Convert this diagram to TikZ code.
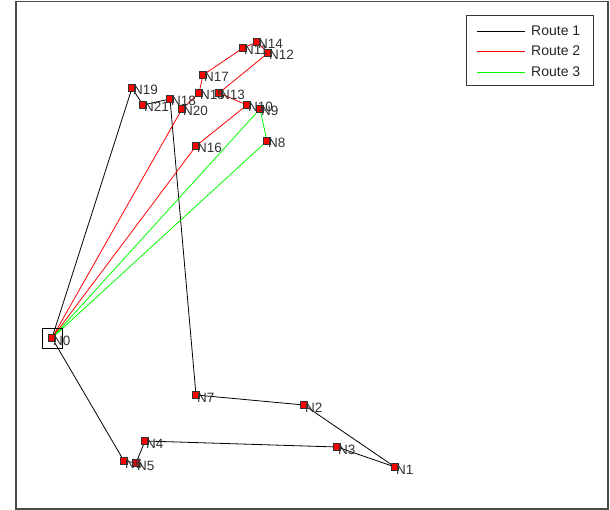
\documentclass[tikz,border=0pt]{standalone}
\usepackage{fontspec}
\setmainfont{Liberation Sans}
\usetikzlibrary{calc}
\begin{document}
\begin{tikzpicture}[x=1pt,y=-1pt,
  mk/.style={draw=black!80,fill=red,rectangle,minimum size=7.5pt,inner sep=0pt,line width=0.6pt},
  lbl/.style={anchor=base west,inner sep=0pt,font=\fontsize{13.5}{14}\selectfont,text=black!80},
  r1/.style={draw=black,line width=0.8pt},
  r2/.style={draw=red,line width=0.8pt},
  r3/.style={draw=green,line width=0.8pt},
  leg/.style={anchor=west,inner sep=0pt,font=\fontsize{14}{15}\selectfont,text=black!85}]
\useasboundingbox (0,0) rectangle (610,510);
\fill[white] (0,0) rectangle (610,510);
\draw[black!70,line width=1.2pt] (16,1.5) rectangle (608,509);
% coordinates
\coordinate (n0) at (52,338);
\coordinate (n1) at (395,467);
\coordinate (n2) at (304,405);
\coordinate (n3) at (337,447);
\coordinate (n4) at (145,441);
\coordinate (n5) at (136,463);
\coordinate (n6) at (124,461);
\coordinate (n7) at (196,395);
\coordinate (n8) at (267,141);
\coordinate (n9) at (260,109);
\coordinate (n10) at (247,105);
\coordinate (n11) at (243,48);
\coordinate (n12) at (268,53);
\coordinate (n13) at (219,93);
\coordinate (n14) at (257,42);
\coordinate (n15) at (199,93);
\coordinate (n16) at (196,146);
\coordinate (n17) at (203,75);
\coordinate (n18) at (170,99);
\coordinate (n19) at (132,88);
\coordinate (n20) at (182,109);
\coordinate (n21) at (143,105);
% routes
\draw[r1] (n0) -- (n19) -- (n21) -- (n18) -- (n7) -- (n2) -- (n1) -- (n3) -- (n4) -- (n5) -- (n6) -- (n0);
\draw[r2] (n0) -- (n20) -- (n15) -- (n17) -- (n11) -- (n14) -- (n12) -- (n13) -- (n10) -- (n16) -- (n0);
\draw[r3] (n0) -- (n9) -- (n8) -- (n0);
% depot box
\node[draw=black,line width=0.75pt,minimum size=20pt,inner sep=0pt] (depot) at (n0) {};
% markers
\foreach \i in {0,...,21} {\node[mk] (m\i) at (n\i) {};}
% labels
\foreach \i in {0,...,21} {\node[lbl] (l\i) at ($(n\i)+(1,7)$) {N\i};}
% legend
\draw[black!80,line width=0.9pt,fill=white] (466,15) rectangle (593,85);
\coordinate (la) at (477,31.5); \coordinate (lb) at (525,31.5);
\coordinate (lc) at (477,51.5); \coordinate (ld) at (525,51.5);
\coordinate (le) at (477,72.5); \coordinate (lf) at (525,72.5);
\draw[draw=black,line width=1pt] (la) -- (lb);
\fill[red] (477,51) rectangle (525,52.2);
\draw[draw=green,line width=1pt] (le) -- (lf);
\node[leg] (t1) at (531,31) {Route 1};
\node[leg] (t2) at (531,51) {Route 2};
\node[leg] (t3) at (531,72) {Route 3};
\end{tikzpicture}
\end{document}
